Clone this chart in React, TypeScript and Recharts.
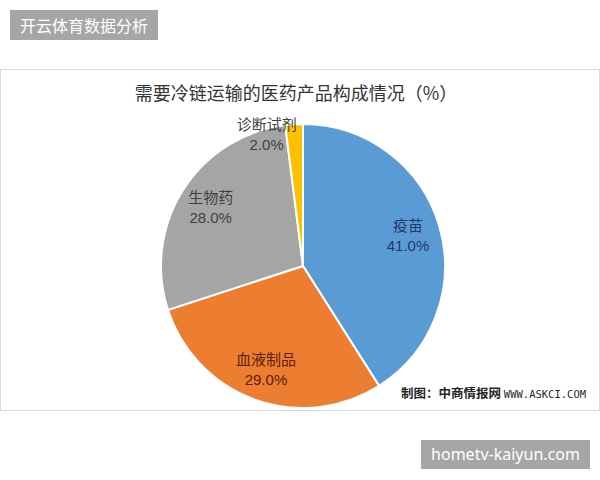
import React from "react";
import { PieChart, Pie, Cell } from "recharts";

const categories = ["疫苗", "血液制品", "生物药", "诊断试剂"];
const values = [41, 29, 28, 2];
const colors = ["#5B9BD5", "#ED7D31", "#A5A5A5", "#FFC000"];
const labelColors = ["#1F3864", "#5A1E0A", "#404040", "#404040"];

const data = categories.map((name, i) => ({ name, value: values[i] }));

const RAD = Math.PI / 180;

const renderLabel = (props: any) => {
  const { cx, cy, midAngle, outerRadius, percent, index } = props;
  const factor = percent < 0.05 ? 0.93 : 0.77;
  const r = outerRadius * factor;
  const x = cx + r * Math.cos(-midAngle * RAD);
  const y = cy + r * Math.sin(-midAngle * RAD);
  const shift = percent < 0.05 ? -28 : 0;
  return (
    <text
      x={x + shift}
      y={y}
      textAnchor="middle"
      fill={labelColors[index]}
      fontSize={15}
      fontFamily="'Noto Sans CJK SC', 'Noto Sans', sans-serif"
    >
      <tspan x={x + shift} dy={-4}>{data[index].name}</tspan>
      <tspan x={x + shift} dy={20} fontFamily="'Liberation Sans Narrow', 'Liberation Sans', sans-serif">
        {(percent * 100).toFixed(1)}%
      </tspan>
    </text>
  );
};

export default function App() {
  return (
    <div
      style={{
        position: "absolute",
        left: 0,
        top: 0,
        width: 600,
        height: 480,
        background: "#ffffff",
        overflow: "hidden",
        fontFamily: "'Noto Sans CJK SC', 'Noto Sans', sans-serif",
      }}
    >
      <div
        style={{
          position: "absolute",
          left: 10,
          top: 10,
          width: 148,
          height: 30,
          background: "#A6A6A6",
          color: "#ffffff",
          fontSize: 16,
          lineHeight: "30px",
          textAlign: "center",
        }}
      >
        开云体育数据分析
      </div>
      <div
        style={{
          position: "absolute",
          left: 0,
          top: 69,
          width: 598,
          height: 340,
          border: "1px solid #DADADA",
        }}
      />
      <div
        style={{
          position: "absolute",
          left: 0,
          top: 79,
          width: 592,
          textAlign: "center",
          fontSize: 18,
          color: "#333333",
          lineHeight: "26px",
        }}
      >
        需要冷链运输的医药产品构成情况（%）
      </div>
      <div style={{ position: "absolute", left: 0, top: 0 }}>
        <PieChart width={600} height={480} margin={{ top: 0, right: 0, bottom: 0, left: 0 }}>
          <Pie
            data={data}
            dataKey="value"
            nameKey="name"
            cx={303}
            cy={266}
            outerRadius={142}
            startAngle={90}
            endAngle={-270}
            stroke="#ffffff"
            strokeWidth={2}
            label={renderLabel}
            labelLine={false}
            isAnimationActive={false}
          >
            {data.map((d, i) => (
              <Cell key={d.name} fill={colors[i]} />
            ))}
          </Pie>
        </PieChart>
      </div>
      <div
        style={{
          position: "absolute",
          left: 401,
          top: 384,
          fontSize: 12.5,
          color: "#262626",
          fontWeight: 700,
          whiteSpace: "nowrap",
          lineHeight: "18px",
        }}
      >
        制图：中商情报网{" "}
        <span style={{ fontFamily: "'DejaVu Sans Mono', monospace", fontSize: 10.5, fontWeight: 400 }}>
          WWW.ASKCI.COM
        </span>
      </div>
      <div
        style={{
          position: "absolute",
          left: 421,
          top: 440,
          width: 169,
          height: 29,
          background: "#A6A6A6",
          color: "#ffffff",
          fontSize: 16,
          lineHeight: "29px",
          textAlign: "center",
          fontFamily: "'Noto Sans', sans-serif",
        }}
      >
        hometv-kaiyun.com
      </div>
    </div>
  );
}
